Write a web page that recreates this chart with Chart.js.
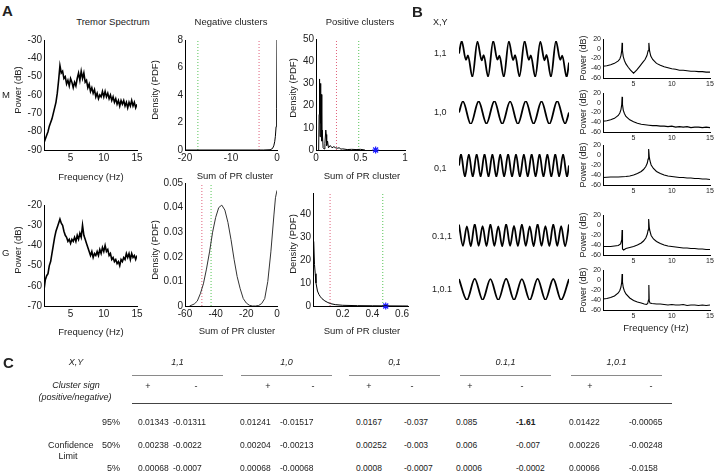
<!DOCTYPE html>
<html><head><meta charset="utf-8">
<script src="https://cdn.jsdelivr.net/npm/chart.js@4"></script>
<style>
body{margin:0;width:716px;height:475px;background:#fff;position:relative;overflow:hidden;font-family:"Liberation Sans",Arial,sans-serif;color:#222}
canvas{position:absolute}
.t{position:absolute;white-space:nowrap;line-height:1}
.r{position:absolute}
</style></head><body>
<script>
// ---- panel A : tremor spectra ----
const specFreq = [1,1.2,1.4,1.6,1.8,2,2.2,2.4,2.6,2.8,3,3.2,3.4,3.6,3.8,4,4.2,4.4,4.6,4.8,5,5.2,5.4,5.6,5.8,6,6.2,6.4,6.6,6.8,7,7.2,7.4,7.6,7.8,8,8.2,8.4,8.6,8.8,9,9.2,9.4,9.6,9.8,10,10.2,10.4,10.6,10.8,11,11.2,11.4,11.6,11.8,12,12.2,12.4,12.6,12.8,13,13.2,13.4,13.6,13.8,14,14.2,14.4,14.6,14.8,15];
const powerM = [-86,-84,-82,-80,-77,-75,-73,-70,-67,-64,-59,-52,-44,-48,-47,-51,-50,-54,-52,-55,-51,-53,-56,-53,-55,-51,-48,-52,-47,-51,-48,-53,-52,-56,-54,-58,-56,-59,-57,-61,-59,-62,-60,-61,-58,-61,-58,-61,-59,-62,-60,-63,-61,-64,-62,-65,-63,-66,-63,-65,-63,-66,-64,-67,-64,-66,-63,-66,-64,-67,-65];
const powerG = [-62,-57,-55,-54,-50,-48,-44,-40,-36,-33,-31,-29,-27,-29,-30,-33,-35,-36,-38,-37,-39,-37,-38,-36,-38,-35,-37,-34,-36,-30,-35,-37,-39,-41,-43,-45,-43,-46,-44,-45,-43,-45,-42,-44,-41,-43,-40,-43,-42,-45,-44,-47,-46,-48,-47,-49,-48,-50,-47,-48,-46,-47,-44,-46,-44,-47,-44,-46,-45,-47,-45];

// ---- panel A : cluster densities ----
const negMx = [-20,-10,-3,-1.5,-1,-0.7,-0.5,-0.35,-0.2,-0.1,-0.05,0];
const negMy = [0,0,0,0.02,0.1,0.3,0.6,1.0,1.7,1.7,3,8];
const posMx = [0.03,0.035,0.04,0.045,0.05,0.055,0.06,0.065,0.07,0.08,0.09,0.1,0.11,0.115,0.12,0.13,0.14,0.16,0.18,0.2,0.22,0.24,0.26,0.28,0.3,0.35,0.4,0.45,0.5,0.55];
const posMy = [0,16,32,6,30,12,25,4,9,1,0.5,3,9,7,2,4,1,2,1,1.5,1,0.8,1,0.4,0.5,0.2,0.3,0.2,0.3,0];
const negGx = [-57,-54,-52,-50,-48,-46,-44,-42,-40,-38,-36,-34,-32,-30,-28,-26,-24,-22,-20,-18,-16,-14,-12,-10,-8,-6,-4,-2,-1,0];
const negGy = [0,0.0008,0.002,0.005,0.009,0.015,0.022,0.030,0.036,0.040,0.041,0.039,0.034,0.027,0.019,0.012,0.007,0.003,0.0012,0.0003,0,0,0.0002,0.001,0.003,0.010,0.022,0.037,0.044,0.047];
const posGx = [0.005,0.01,0.015,0.02,0.03,0.04,0.05,0.06,0.08,0.1,0.12,0.15,0.2,0.3,0.4,0.5,0.6,0.64];
const posGy = [28,18,14,10,6.5,5,4,3.2,2.2,1.5,1,0.6,0.3,0.15,0.1,0.05,0.02,0];
// limits: [neg M, pos M, neg G, pos G]
const redLimit   = [-3.9, 0.23, -49, 0.115];
const greenLimit = [-17.2, 0.48, -43, 0.47];
const observed   = [null, 0.67, null, 0.49];

// ---- panel B : simulated signals ----
const ts11T = [0,0.049,0.126,0.163,0.243,0.335,0.412,0.449,0.529,0.621,0.698,0.735,0.815,0.906,0.983,1.02,1.1,1.192,1.269,1.306,1.386,1.478,1.555,1.592,1.672,1.763,1.84,1.877,1.957,2];
const ts11V = [0.3,1,-0.05,0.2,-1,0.97,-0.08,0.22,-0.98,1,-0.04,0.18,-1,0.98,-0.06,0.21,-0.97,1,-0.05,0.2,-1,0.96,-0.07,0.23,-0.99,1,-0.05,0.19,-1,-0.2];
const ts10T = [0,0.071,0.214,0.357,0.5,0.643,0.786,0.929,1.071,1.214,1.357,1.5,1.643,1.786,1.929,2];
const ts10V = [0,0.97,-1,0.98,-0.97,1,-0.99,0.96,-1,0.99,-0.98,0.97,-1,1,-0.97,0];
const ts01T = [0,0.036,0.107,0.179,0.25,0.321,0.393,0.464,0.536,0.607,0.679,0.75,0.821,0.893,0.964,1.036,1.107,1.179,1.25,1.321,1.393,1.464,1.536,1.607,1.679,1.75,1.821,1.893,1.964,2];
const ts01V = [0,1,-0.98,0.97,-1,0.99,-0.97,1,-0.99,0.98,-1,0.97,-0.98,1,-0.99,0.98,-1,0.97,-0.98,1,-0.97,0.99,-1,0.98,-0.99,1,-0.97,0.98,-1,0];
const ts011T = [0,0.071,0.143,0.214,0.286,0.357,0.429,0.5,0.571,0.643,0.714,0.786,0.857,0.929,1,1.071,1.143,1.214,1.286,1.357,1.429,1.5,1.571,1.643,1.714,1.786,1.857,1.929,2];
const ts011V = [0.95,-0.9,0.8,-0.93,1,-0.9,0.82,-0.92,0.98,-0.91,0.8,-0.94,1,-0.9,0.83,-0.92,0.97,-0.9,0.8,-0.93,1,-0.91,0.82,-0.92,0.98,-0.9,0.81,-0.93,0.96];
const ts101T = [0,0.143,0.286,0.429,0.571,0.714,0.857,1,1.143,1.286,1.429,1.571,1.714,1.857,2];
const ts101V = [0.9,-1,0.92,-0.98,0.9,-1,0.93,-0.99,0.9,-1,0.92,-0.98,0.91,-1,0.9];

// ---- panel B : spectra ----
const spec11F = [1,1.5,2,2.5,3,3.2,3.35,3.45,3.5,3.55,3.65,3.8,4,4.3,4.6,5,5.4,5.8,6.2,6.5,6.75,6.9,7,7.1,7.25,7.5,8,8.5,9,9.5,10,10.5,11,11.5,12,12.5,13,13.5,14,14.5,15];
const spec11P = [-36,-35,-33,-30,-25,-21,-14,-4,12,-4,-16,-24,-31,-38,-44,-50,-44,-36,-28,-22,-14,-4,12,-5,-15,-22,-30,-34,-37,-39,-41,-42,-44,-44,-45,-46,-46,-47,-47,-48,-48];
const spec10F = [1,1.5,2,2.5,3,3.2,3.35,3.45,3.5,3.55,3.65,3.8,4,4.5,5,5.5,6,6.5,7,7.5,8,8.5,9,9.5,10,10.5,11,11.5,12,12.5,13,13.5,14,14.5,15];
const spec10P = [-38,-37,-35,-32,-26,-21,-14,-4,12,-4,-15,-22,-28,-35,-39,-42,-44,-45,-46,-47,-47,-48,-48,-49,-48,-50,-49,-50,-49,-51,-50,-50,-51,-50,-51];
const spec01F = [1,2,3,4,4.5,5,5.5,6,6.3,6.6,6.8,6.9,6.95,7,7.05,7.15,7.3,7.6,8,8.5,9,9.5,10,10.5,11,11.5,12,12.5,13,13.5,14,14.5,15];
const spec01P = [-45,-44,-44,-43,-42,-40,-37,-33,-29,-23,-16,-8,-2,12,-3,-12,-20,-27,-33,-37,-40,-42,-43,-44,-45,-45,-46,-46,-47,-47,-48,-48,-49];
const spec011F = [1,1.5,2,2.5,3,3.3,3.45,3.5,3.55,3.7,4,4.5,5,5.5,6,6.3,6.6,6.8,6.9,6.95,7,7.05,7.15,7.3,7.6,8,8.5,9,9.5,10,10.5,11,11.5,12,12.5,13,13.5,14,14.5,15];
const spec011P = [-43,-43,-43,-42,-41,-38,-30,-10,-48,-50,-47,-45,-43,-40,-36,-32,-26,-18,-10,-3,12,-4,-13,-21,-28,-33,-37,-40,-42,-43,-44,-45,-46,-46,-47,-47,-48,-48,-49,-49];
const spec101F = [1,1.5,2,2.5,3,3.2,3.35,3.45,3.5,3.55,3.65,3.8,4,4.5,5,5.5,6,6.4,6.7,6.85,6.95,7,7.05,7.15,7.4,8,8.5,9,9.5,10,10.5,11,11.5,12,12.5,13,13.5,14,14.5,15];
const spec101P = [-38,-37,-35,-32,-26,-21,-14,-4,12,-4,-15,-22,-28,-36,-41,-44,-46,-48,-49,-47,-40,-10,-42,-46,-47,-48,-48,-49,-50,-49,-50,-50,-49,-51,-50,-50,-51,-50,-51,-50];

// ---- tick labels ----
const tickSpecX = [5,10,15];
const tickMY = [-90,-80,-70,-60,-50,-40,-30];
const tickGY = [-70,-60,-50,-40,-30,-20];
const tickNegMX = [-20,-10,0];
const tickNegMY = [0,2,4,6,8];
const tickPosMX = [0,0.5,1];
const tickPosMY = [0,10,20,30,40,50];
const tickNegGX = [-60,-40,-20,0];
const tickNegGY = [0,0.01,0.02,0.03,0.04,0.05];
const tickPosGX = [0.2,0.4,0.6];
const tickPosGY = [0,10,20,30,40];
const tickBY = [-60,-40,-20,0,20];

// ---- panel C table ----
const tblGroups = ['1,1','1,0','0,1','0.1,1','1,0.1'];
const row95 = ['0.01343','-0.01311','0.01241','-0.01517','0.0167','-0.037','0.085','-1.61','0.01422','-0.00065'];
const row50 = ['0.00238','-0.0022','0.00204','-0.00213','0.00252','-0.003','0.006','-0.007','0.00226','-0.00248'];
const row5  = ['0.00068','-0.0007','0.00068','-0.00068','0.0008','-0.0007','0.0006','-0.0002','0.00066','-0.0158'];

Chart.defaults.font.family = '"Liberation Sans", Arial, sans-serif';
Chart.defaults.color = '#222';

function line(xs, ys, opts){
  return Object.assign({data: xs.map((x,i)=>({x:x, y:ys[i]})), borderColor:'#000', borderWidth:1,
    pointRadius:0, tension:0, fill:false}, opts || {});
}
function vline(x, y0, y1, color){
  return line([x,x],[y0,y1],{borderColor:color, borderDash:[1,2], borderWidth:1});
}
function star(x){
  return {data:[{x:x,y:0}], showLine:false, pointStyle:'star', pointRadius:3.5,
    borderColor:'#1a1aff', borderWidth:1.2, clip:false};
}
function axisOpt(a, kind, size){
  return {type:'linear', min:a.min, max:a.max,
    grid:{display:false, drawTicks:false}, border:{display:true, color:'#000', width:1},
    ticks:{font:{size:a.font || 10}, color:'#222', padding:a.pad || 2, autoSkip:false, maxRotation:0,
      callback:v=>String(v)},
    afterBuildTicks:s=>{ s.ticks = a.ticks.map(v=>({value:v})); },
    afterFit:s=>{ if(kind==='x') s.height = size; else s.width = size; }
  };
}
function plot(box, datasets, xa, ya, yW, xH){
  const L=box[0], T=box[1], R=box[2], B=box[3];
  yW = yW || 40; xH = xH || 22;
  const pT=8, pR=12;
  const c = document.createElement('canvas');
  c.width = R-L+yW+pR; c.height = B-T+pT+xH;
  c.style.left = (L-yW)+'px'; c.style.top = (T-pT)+'px';
  document.body.appendChild(c);
  new Chart(c, {type:'line', data:{datasets:datasets}, options:{
    responsive:false, animation:false, devicePixelRatio:1,
    layout:{padding:{left:0, top:pT, right:pR, bottom:0}},
    plugins:{legend:{display:false}, tooltip:{enabled:false}},
    scales:{x:axisOpt(xa,'x',xH), y:axisOpt(ya,'y',yW)}
  }});
}
function trace(box, ts, vs, lim){
  const c = document.createElement('canvas');
  c.width = box[2]-box[0]; c.height = box[3]-box[1];
  c.style.left = box[0]+'px'; c.style.top = box[1]+'px';
  document.body.appendChild(c);
  new Chart(c, {type:'line', data:{datasets:[line(ts, vs, {borderWidth:1.8, cubicInterpolationMode:'monotone', clip:false})]},
    options:{responsive:false, animation:false, devicePixelRatio:1, layout:{padding:0},
      plugins:{legend:{display:false}, tooltip:{enabled:false}},
      scales:{x:{type:'linear', display:false, min:0, max:2}, y:{display:false, min:-lim, max:lim}}}});
}
function txt(s, x, y, o){
  o = o || {};
  const d = document.createElement('div'); d.className='t'; d.textContent = s;
  d.style.left = x+'px'; d.style.top = y+'px';
  d.style.fontSize = (o.size || 9.5)+'px';
  if(o.bold) d.style.fontWeight = 'bold';
  if(o.italic) d.style.fontStyle = 'italic';
  const ax = o.align==='left' ? '0' : o.align==='right' ? '-100%' : '-50%';
  d.style.transform = 'translate('+ax+',-50%)' + (o.rot ? ' rotate(-90deg)' : '');
  document.body.appendChild(d);
}
function rule(x1, x2, y, color){
  const d = document.createElement('div'); d.className='r';
  d.style.left = x1+'px'; d.style.top = y+'px'; d.style.width = (x2-x1)+'px';
  d.style.height = '1px'; d.style.background = color;
  document.body.appendChild(d);
}

const RED = '#e0607a', GREEN = '#55c455';

// ---- A, row M ----
plot([44,40,137,150], [line(specFreq, powerM, {borderWidth:1.6})],
  {min:1, max:15, ticks:tickSpecX}, {min:-90, max:-30, ticks:tickMY});
plot([185,40,277,150], [line(negMx, negMy), vline(greenLimit[0],0,8,GREEN), vline(redLimit[0],0,8,RED)],
  {min:-20, max:0, ticks:tickNegMX}, {min:0, max:8, ticks:tickNegMY});
plot([316,39,405,150], [line(posMx, posMy), vline(redLimit[1],0,50,RED), vline(greenLimit[1],0,50,GREEN), star(observed[1])],
  {min:0, max:1, ticks:tickPosMX}, {min:0, max:50, ticks:tickPosMY});
// ---- A, row G ----
plot([44,205,137,306], [line(specFreq, powerG, {borderWidth:1.6})],
  {min:1, max:15, ticks:tickSpecX}, {min:-70, max:-20, ticks:tickGY});
plot([185,183,277,306], [line(negGx, negGy, {borderColor:'#333'}), vline(redLimit[2],0,0.05,RED), vline(greenLimit[2],0,0.05,GREEN)],
  {min:-60, max:0, ticks:tickNegGX}, {min:0, max:0.05, ticks:tickNegGY});
plot([313,193,408,306], [line(posGx, posGy), vline(redLimit[3],0,49,RED), vline(greenLimit[3],0,49,GREEN), star(observed[3])],
  {min:0, max:0.64, ticks:tickPosGX}, {min:0, max:49, ticks:tickPosGY});

// ---- B traces ----
trace([459,41,569,77], ts11T, ts11V, 1);
trace([459,101,569,124], ts10T, ts10V, 1);
trace([459,154,569,177], ts01T, ts01V, 1);
trace([459,224,569,247], ts011T, ts011V, 1);
trace([459,278,569,300], ts101T, ts101V, 1);

// ---- B spectra ----
const bx = {min:1, max:15, ticks:tickSpecX, font:7, pad:2};
const by = {min:-60, max:20, ticks:tickBY, font:7, pad:2};
plot([603,39,710,78], [line(spec11F, spec11P, {borderWidth:1.1})], bx, by, 24, 12);
plot([603,93,710,132], [line(spec10F, spec10P, {borderWidth:1.1})], bx, by, 24, 12);
plot([603,145,710,185], [line(spec01F, spec01P, {borderWidth:1.1})], bx, by, 24, 12);
plot([603,215,710,255], [line(spec011F, spec011P, {borderWidth:1.1})], bx, by, 24, 12);
plot([603,270,710,310], [line(spec101F, spec101P, {borderWidth:1.1})], bx, by, 24, 12);

// ---- texts A ----
txt('A', 2, 10, {size:15, bold:true, align:'left'});
txt('Tremor Spectrum', 113, 22);
txt('Negative clusters', 231, 22);
txt('Positive clusters', 360, 22);
txt('M', 2, 95, {size:9.5, align:'left'});
txt('G', 2, 253, {size:9.5, align:'left'});
txt('Power (dB)', 18, 90, {rot:true});
txt('Power (dB)', 18, 250, {rot:true});
txt('Density (PDF)', 155, 90, {rot:true});
txt('Density (PDF)', 293, 88, {rot:true});
txt('Density (PDF)', 155, 250, {rot:true});
txt('Density (PDF)', 293, 244, {rot:true});
txt('Frequency (Hz)', 91, 177);
txt('Frequency (Hz)', 91, 332);
txt('Sum of PR cluster', 235, 176);
txt('Sum of PR cluster', 362, 176);
txt('Sum of PR cluster', 237, 331);
txt('Sum of PR cluster', 362, 331);

// ---- texts B ----
txt('B', 412, 11, {size:15, bold:true, align:'left'});
txt('X,Y', 433, 22, {size:9, align:'left'});
txt('1,1', 434, 53, {size:9, align:'left'});
txt('1,0', 434, 112, {size:9, align:'left'});
txt('0,1', 434, 168, {size:9, align:'left'});
txt('0.1,1', 432, 236, {size:9, align:'left'});
txt('1,0.1', 432, 289, {size:9, align:'left'});
for (const [x,y] of [[583,58],[583,112],[583,165],[583,235],[583,290]]) txt('Power (dB)', x, y, {size:9, rot:true});
txt('Frequency (Hz)', 656, 328);

// ---- texts C ----
txt('C', 3, 362, {size:15, bold:true, align:'left'});
txt('X,Y', 76, 362, {size:9, italic:true});
txt('Cluster sign', 76, 385, {size:9, italic:true});
txt('(positive/negative)', 75, 397, {size:9, italic:true});
const grpX = [[132,223],[241,332],[349,440],[460,551],[571,662]];
const signX = [[148,196],[268,313],[369,412],[470,522],[590,651]];
tblGroups.forEach((g,i)=>{
  const a = grpX[i];
  txt(g, (a[0]+a[1])/2, 362, {size:9, italic:true});
  rule(a[0], a[1], 375, '#8a8a8a');
  txt('+', signX[i][0], 386, {size:9});
  txt('-', signX[i][1], 386, {size:9});
});
rule(132, 672, 403, '#444');
const colX = [138,173,240,280,356,404,456,516,569,629];
const rowY = [422,445,468];
[row95,row50,row5].forEach((r,j)=>{
  r.forEach((v,i)=>txt(v, colX[i], rowY[j], {size:8.5, align:'left', bold:(v==='-1.61')}));
});
txt('95%', 120, 422, {size:9, align:'right'});
txt('Confidence', 48, 445, {size:9, align:'left'});
txt('50%', 120, 445, {size:9, align:'right'});
txt('Limit', 68, 456, {size:9});
txt('5%', 120, 468, {size:9, align:'right'});
</script>
</body></html>
